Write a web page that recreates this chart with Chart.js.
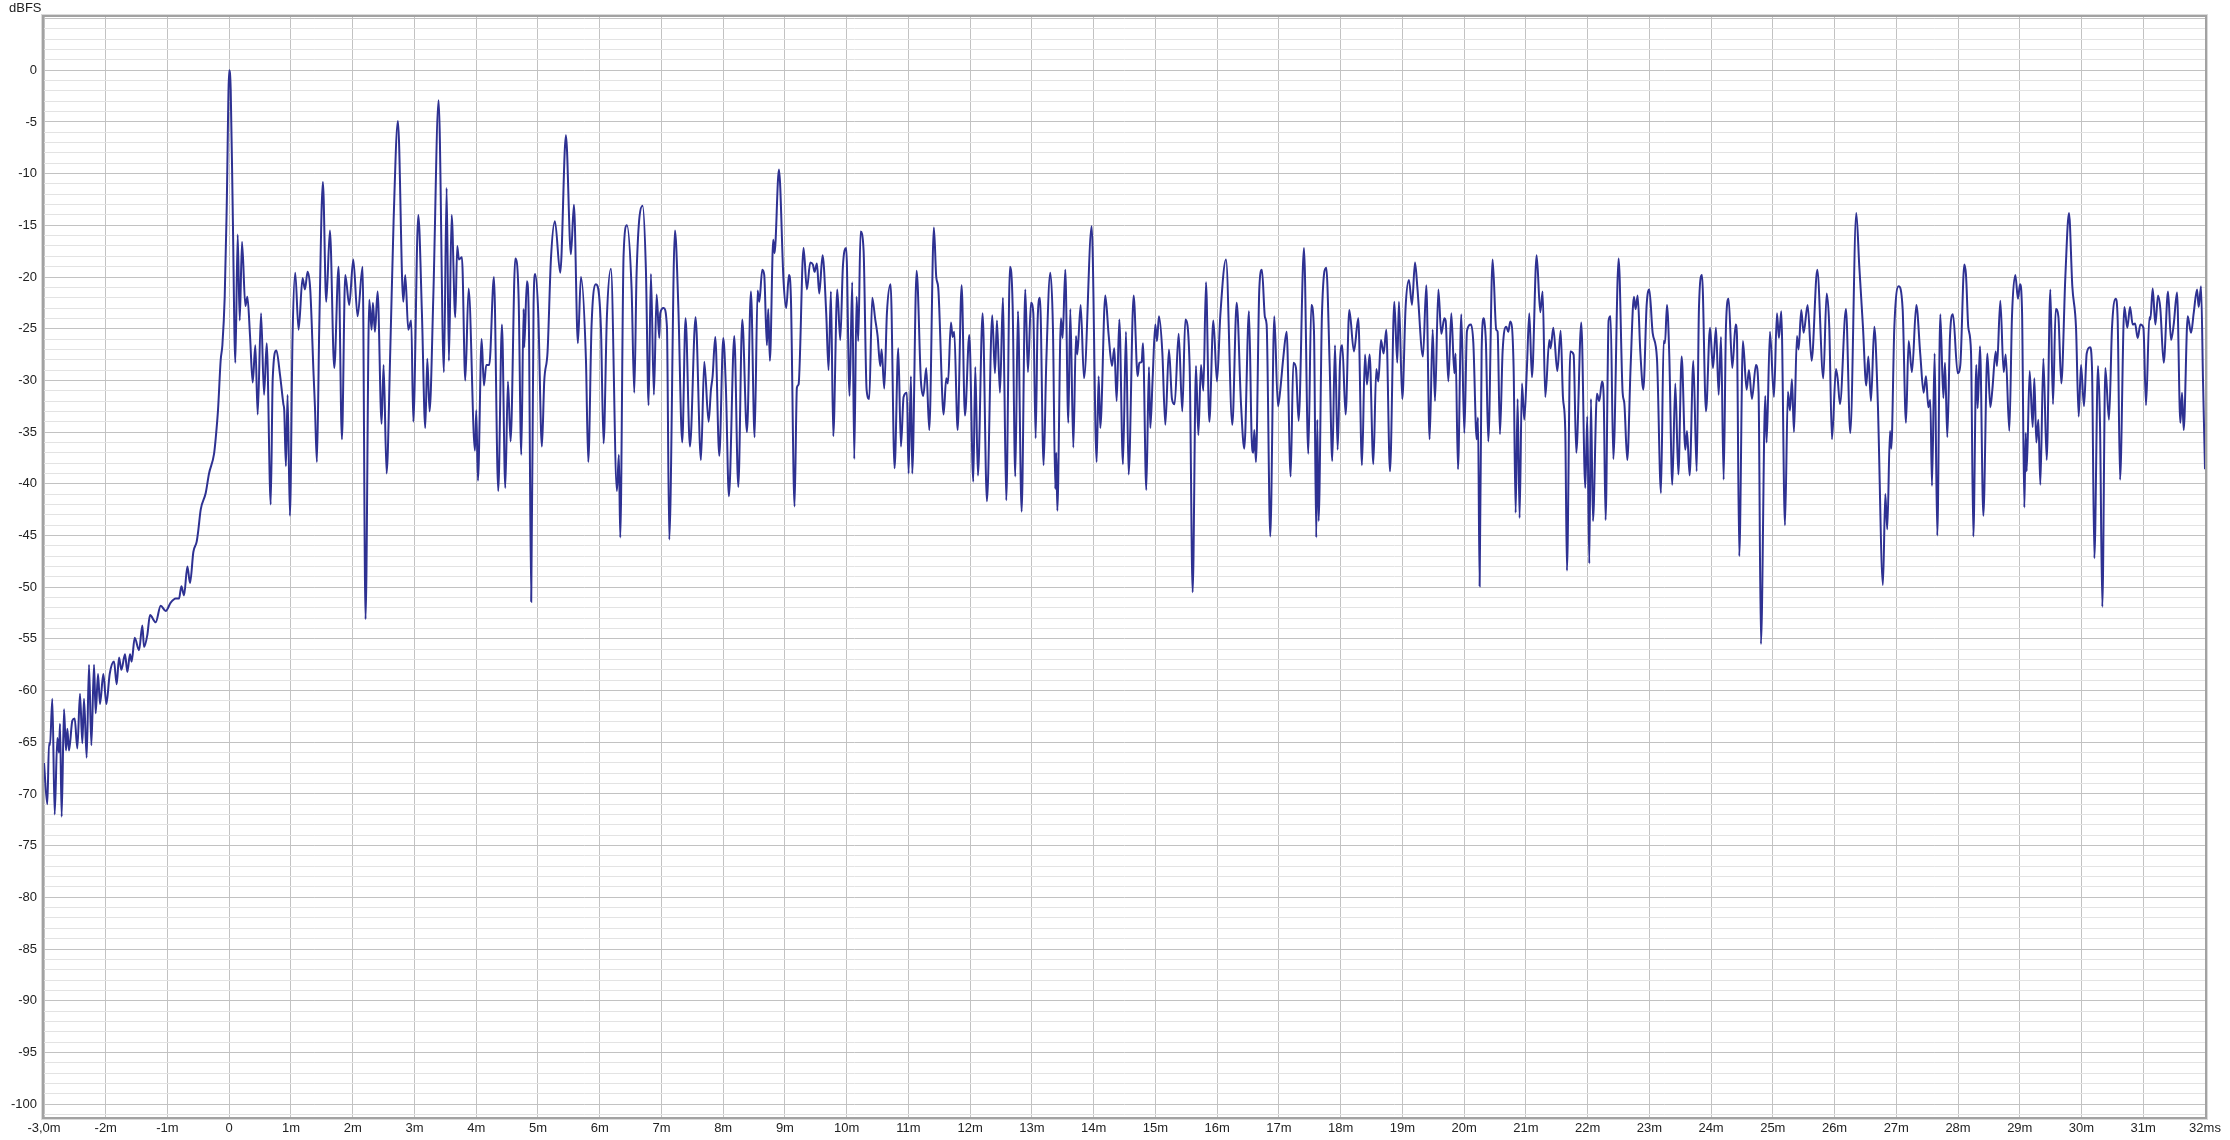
<!DOCTYPE html>
<html>
<head>
<meta charset="utf-8">
<title>Impulse response</title>
<script src="https://cdn.jsdelivr.net/npm/chart.js@4.4.1/dist/chart.umd.min.js"></script>
<style>
  html, body { margin: 0; padding: 0; background: #fff; }
  #wrap { position: relative; width: 2230px; height: 1140px; }
  #unit { position: absolute; left: 9px; top: 0px; font: 13px "Liberation Sans", Arial, sans-serif; color: #222; }
</style>
</head>
<body>
<div id="wrap">
  <canvas id="irChart" width="2230" height="1140"></canvas>
  <div id="unit">dBFS</div>
</div>
<script>
// time (ms) / level (dBFS), one pair of arrays per stretch
const t0 = [-3.000,-2.946,-2.919,-2.903,-2.865,-2.827,-2.784,-2.757,-2.741,-2.714,
  -2.676,-2.644,-2.622,-2.595,-2.541,-2.503,-2.460,-2.417,-2.379,-2.352,
  -2.309,-2.271,-2.233,-2.190,-2.163,-2.125,-2.093,-2.039,-1.990,-1.936,
  -1.866,-1.823,-1.785,-1.747,-1.688,-1.650,-1.607,-1.580,-1.531,-1.461,
  -1.407,-1.380,-1.326,-1.283,-1.191,-1.110,-1.029,-0.948,-0.867,-0.813,
  -0.775,-0.732,-0.678,-0.635,-0.581,-0.527,-0.505,-0.462,-0.381,-0.327,
  -0.246,-0.219,-0.181,-0.138,-0.111,-0.073,-0.041,0.000,0.024,0.056,
  0.099,0.137,0.170,0.207,0.261,0.294,0.337,0.380,0.423,0.461,
  0.515,0.564,0.607,0.672,0.704,0.764,0.823,0.877];
const db0 = [-67.0,-71.0,-65.1,-65.3,-60.8,-72.0,-64.6,-66.0,-63.2,-72.2,
  -61.8,-65.8,-63.7,-65.8,-62.9,-62.7,-65.6,-60.3,-65.1,-60.8,
  -66.5,-57.5,-65.3,-57.5,-62.2,-58.4,-61.3,-58.4,-61.3,-58.4,
  -57.2,-59.4,-56.8,-58.0,-56.5,-58.2,-56.5,-57.2,-54.9,-56.1,
  -53.7,-55.8,-54.6,-52.7,-53.4,-51.8,-52.3,-51.5,-51.1,-51.1,
  -49.9,-50.8,-48.0,-49.6,-46.6,-45.6,-44.7,-42.5,-40.9,-39.0,
  -37.1,-35.6,-32.8,-28.0,-26.6,-21.9,-13.3,0.0,-1.9,-13.3,
  -28.3,-15.9,-24.2,-16.6,-22.8,-21.9,-25.7,-30.2,-26.6,-33.3,
  -23.5,-31.4,-26.4,-42.0,-29.9,-27.1,-29.5,-32.3];

const t1 = [0.891,0.918,0.945,0.983,1.026,1.069,1.123,1.188,1.226,1.269,
  1.312,1.366,1.388,1.420,1.458,1.517,1.571,1.631,1.701,1.771,
  1.825,1.879,1.944,2.009,2.079,2.160,2.208,2.268,2.306,2.327,
  2.360,2.403,2.468,2.500,2.549,2.608,2.662,2.732,2.819,2.851,
  2.900,2.948,2.981,3.062,3.121,3.175,3.208,3.245,3.305,3.391,
  3.477,3.521,3.558,3.602,3.661,3.693,3.720,3.769,3.823,3.877,
  3.980,4.001,4.028,4.088,4.125,4.163,4.212,4.287,4.357,4.417,
  4.471,4.514,4.557,4.633,4.687,4.730,4.768];
const db1 = [-32.9,-38.3,-31.4,-43.1,-25.7,-19.6,-25.1,-20.1,-21.2,-19.5,
  -21.2,-29.4,-32.5,-37.9,-24.9,-10.8,-22.4,-15.5,-28.8,-19.0,
  -35.7,-19.8,-22.7,-18.3,-23.8,-19.0,-53.1,-22.2,-25.1,-22.5,
  -25.3,-21.4,-34.2,-28.5,-39.0,-27.2,-14.6,-4.9,-22.4,-19.8,
  -25.1,-24.2,-34.0,-14.0,-23.5,-34.6,-27.9,-33.0,-22.0,-2.9,
  -29.2,-11.4,-28.1,-14.0,-23.9,-17.0,-18.3,-18.1,-30.0,-21.1,
  -36.8,-32.9,-39.7,-26.0,-30.5,-28.5,-28.5,-20.0,-40.7,-24.6,
  -40.4,-30.1,-35.9,-18.2,-22.0,-37.2,-23.1];

const t2 = [4.778,4.821,4.854,4.891,4.929,4.956,5.005,5.064,5.102,5.156,
  5.210,5.275,5.361,5.453,5.534,5.583,5.647,5.696,5.777,5.815,
  5.869,5.939,6.020,6.063,6.117,6.182,6.279,6.311,6.333,6.387,
  6.441,6.517,6.560,6.598,6.695,6.749,6.792,6.830,6.878,6.922,
  6.965,6.981,7.035,7.089,7.127,7.219,7.273,7.337,7.391,7.462,
  7.553,7.640,7.694,7.764,7.802,7.829,7.872,7.937,8.002,8.045,
  8.093,8.180,8.245,8.309,8.385,8.450,8.509,8.558,8.585,8.633];
const db2 = [-26.8,-20.4,-24.9,-51.4,-22.7,-19.7,-23.5,-36.4,-30.1,-27.2,
  -18.3,-14.6,-19.6,-6.3,-17.8,-13.0,-26.4,-20.0,-27.9,-37.9,
  -24.6,-20.7,-24.9,-36.1,-23.8,-19.2,-40.7,-37.2,-45.2,-17.9,
  -15.0,-21.2,-31.2,-19.6,-13.1,-19.4,-32.4,-19.7,-31.4,-21.7,
  -25.9,-23.5,-23.0,-24.8,-45.4,-15.5,-22.7,-36.0,-24.0,-36.4,
  -23.9,-37.7,-28.2,-34.0,-30.9,-29.6,-25.8,-37.3,-25.9,-30.9,
  -41.2,-25.7,-40.3,-24.1,-35.0,-21.4,-35.5,-21.3,-22.4,-19.3];

const t3 = [8.665,8.708,8.730,8.757,8.811,8.832,8.903,8.978,9.021,9.065,
  9.097,9.156,9.194,9.221,9.302,9.356,9.410,9.453,9.480,9.518,
  9.556,9.610,9.669,9.707,9.745,9.783,9.848,9.896,9.939,9.993,
  10.047,10.090,10.123,10.161,10.188,10.225,10.274,10.323,10.366,10.414,
  10.463,10.501,10.544,10.566,10.609,10.652,10.712,10.776,10.836,10.879,
  10.922,10.976,11.003,11.041,11.062,11.133,11.203,11.241,11.289,11.338,
  11.413,11.451,11.484,11.554,11.570,11.613,11.640,11.689,11.716,11.743,
  11.786,11.797,11.862,11.916,11.986,12.051,12.083,12.126,12.202,12.272,
  12.358,12.402,12.434,12.483,12.531];
const db3 = [-19.8,-26.6,-23.1,-28.1,-16.4,-17.7,-9.6,-20.4,-23.0,-19.8,
  -22.0,-42.2,-30.7,-30.4,-17.2,-21.2,-18.6,-18.8,-19.5,-18.7,
  -21.6,-17.9,-23.5,-29.0,-21.4,-35.4,-21.2,-26.1,-19.0,-17.2,
  -31.5,-20.5,-37.6,-21.9,-26.2,-15.6,-17.4,-30.9,-31.8,-22.0,
  -24.1,-25.7,-28.6,-27.0,-30.8,-23.5,-20.7,-38.5,-26.9,-36.4,
  -31.6,-31.2,-39.0,-29.6,-39.0,-19.4,-30.1,-31.5,-28.8,-34.8,
  -15.2,-20.0,-21.1,-32.2,-33.3,-29.8,-30.3,-24.4,-25.8,-25.3,
  -33.6,-34.8,-20.8,-33.4,-25.6,-39.8,-28.7,-39.2,-23.5,-41.7,
  -23.7,-29.3,-24.2,-31.2,-22.0];

const t4 = [12.553,12.585,12.645,12.688,12.731,12.774,12.834,12.893,12.936,12.985,
  13.023,13.061,13.093,13.131,13.190,13.233,13.298,13.341,13.379,13.395,
  13.412,13.471,13.498,13.541,13.590,13.622,13.671,13.714,13.735,13.790,
  13.844,13.968,14.049,14.081,14.108,14.189,14.243,14.297,14.335,14.373,
  14.416,14.475,14.524,14.567,14.648,14.713,14.740,14.778,14.799,14.853,
  14.896,14.918,14.956,14.999,15.026,15.058,15.112,15.161,15.220,15.269,
  15.312,15.377,15.436,15.485,15.555,15.604,15.658,15.696,15.739,15.777,
  15.820,15.874,15.939,15.998,16.052,16.144,16.246,16.317,16.387];
const db4 = [-29.8,-41.6,-19.0,-22.7,-39.3,-23.3,-42.7,-21.2,-29.2,-22.5,
  -23.5,-35.6,-24.2,-22.0,-38.2,-28.3,-19.6,-24.9,-40.5,-37.0,
  -42.6,-24.0,-25.9,-19.3,-34.1,-23.1,-36.5,-25.7,-27.5,-22.7,
  -29.8,-15.1,-37.9,-29.6,-34.6,-21.8,-25.6,-28.6,-26.9,-32.0,
  -24.1,-38.1,-25.3,-39.1,-21.8,-29.6,-28.3,-28.2,-26.4,-40.6,
  -28.7,-34.6,-29.8,-24.6,-26.2,-23.8,-27.2,-34.3,-27.0,-31.8,
  -32.3,-25.5,-33.0,-24.1,-28.6,-50.5,-28.6,-35.3,-28.5,-31.0,
  -20.5,-34.0,-24.2,-30.1,-23.7,-18.3,-34.3,-22.5,-32.3];

const t5 = [16.440,16.516,16.559,16.586,16.602,16.629,16.683,16.726,16.775,16.802,
  16.861,16.926,16.985,17.018,17.072,17.126,17.191,17.234,17.277,17.320,
  17.407,17.477,17.525,17.569,17.606,17.622,17.644,17.698,17.768,17.822,
  17.865,17.909,17.952,17.990,18.027,18.081,18.141,18.216,18.287,18.346,
  18.395,18.427,18.470,18.530,18.578,18.611,18.654,18.697,18.740,18.800,
  18.870,18.918,18.945,18.999,19.053,19.107,19.156,19.205,19.242,19.334,
  19.388,19.442,19.491,19.529,19.583,19.631,19.680,19.701,19.745,19.793,
  19.842,19.863,19.901,19.955,20.004,20.047,20.112,20.150,20.204,20.225,
  20.252,20.284,20.317];
const db5 = [-36.6,-23.3,-35.5,-37.0,-34.8,-37.9,-21.2,-19.3,-23.9,-24.6,
  -45.1,-23.8,-32.5,-31.2,-27.8,-25.3,-39.3,-28.3,-28.8,-33.9,
  -17.2,-37.1,-22.7,-25.3,-45.2,-33.8,-43.6,-23.6,-19.1,-28.3,
  -37.8,-26.6,-36.7,-28.3,-26.6,-33.3,-23.2,-27.2,-24.0,-38.2,
  -27.5,-30.4,-27.5,-38.1,-28.9,-30.1,-26.1,-27.4,-25.1,-38.8,
  -22.4,-28.3,-22.4,-31.8,-22.9,-20.3,-22.7,-18.6,-20.9,-27.7,
  -20.8,-35.7,-25.1,-32.0,-21.2,-25.5,-24.0,-24.2,-30.1,-23.5,
  -29.3,-27.4,-38.6,-23.6,-35.1,-25.2,-24.6,-26.4,-35.7,-33.6,
  -49.9,-27.2,-24.0];

const t6 = [20.327,20.354,20.392,20.462,20.521,20.543,20.581,20.624,20.683,20.716,
  20.748,20.802,20.835,20.867,20.899,20.937,20.975,21.018,21.056,21.099,
  21.175,21.234,21.272,21.315,21.380,21.402,21.445,21.510,21.564,21.601,
  21.639,21.666,21.720,21.774,21.817,21.898,21.963,21.995,22.028,22.055,
  22.087,22.152,22.190,22.233,22.260,22.292,22.341,22.373,22.417,22.503,
  22.568,22.595,22.643,22.697,22.751,22.778,22.811,22.854,22.903,22.957,
  23.000,23.054,23.124,23.189,23.232,23.254,23.286,23.324,23.372,23.421,
  23.470,23.524,23.583,23.610,23.653,23.713,23.767,23.804,23.853,23.918,
  23.983,24.031,24.080,24.123,24.161,24.204];
const db6 = [-24.2,-26.4,-35.9,-18.3,-25.1,-25.3,-35.2,-27.2,-24.8,-25.3,
  -24.3,-28.7,-42.8,-31.8,-43.3,-30.3,-33.8,-28.7,-23.5,-29.7,
  -17.9,-23.4,-21.4,-31.6,-26.1,-26.9,-24.9,-29.1,-25.2,-31.6,
  -34.9,-48.4,-27.2,-27.5,-37.0,-24.4,-40.4,-33.5,-47.7,-31.8,
  -43.6,-31.3,-32.0,-30.1,-31.4,-43.5,-24.2,-23.8,-37.6,-18.2,
  -31.2,-32.2,-37.7,-28.7,-21.9,-23.1,-21.8,-27.2,-30.9,-22.7,
  -21.2,-25.4,-27.9,-40.9,-26.2,-26.4,-22.7,-27.7,-40.1,-30.3,
  -39.1,-27.7,-36.7,-34.9,-39.2,-28.1,-38.8,-23.0,-19.8,-33.0,
  -24.9,-28.8,-24.9,-31.4,-25.8,-39.6];

const t7 = [24.241,24.284,24.344,24.398,24.419,24.457,24.516,24.576,24.614,24.662,
  24.727,24.770,24.808,24.878,24.900,24.954,25.019,25.067,25.100,25.137,
  25.197,25.245,25.278,25.310,25.343,25.391,25.418,25.461,25.499,25.564,
  25.629,25.720,25.818,25.872,25.915,25.958,26.023,26.050,26.088,26.185,
  26.255,26.352,26.401,26.460,26.514,26.547,26.590,26.644,26.698,26.784,
  26.822,26.854,26.898,26.919,26.968,27.038,27.103,27.157,27.200,27.254,
  27.324,27.389,27.443,27.481,27.519,27.551,27.578,27.621,27.664,27.713,
  27.762,27.789,27.826,27.870,27.918,27.994,28.037];
const db7 = [-24.9,-22.1,-28.8,-24.6,-25.6,-47.0,-26.2,-30.9,-29.0,-31.8,
  -28.5,-31.2,-55.5,-31.5,-36.0,-25.3,-31.6,-23.5,-25.9,-23.3,
  -44.0,-31.1,-32.9,-29.9,-35.0,-25.7,-27.0,-23.2,-25.4,-22.7,
  -28.1,-19.3,-29.8,-21.6,-24.9,-35.7,-28.9,-29.8,-32.3,-23.1,
  -35.1,-13.8,-19.0,-24.8,-30.5,-27.7,-32.0,-24.8,-31.6,-49.8,
  -41.0,-44.4,-34.9,-36.6,-24.9,-20.9,-23.1,-34.1,-26.2,-29.2,
  -22.7,-27.5,-31.2,-29.6,-32.6,-31.9,-40.2,-27.4,-45.0,-23.6,
  -31.7,-28.3,-35.5,-25.7,-23.6,-29.3,-28.5];

const t8 = [28.102,28.129,28.167,28.210,28.248,28.296,28.318,28.356,28.410,28.475,
  28.523,28.556,28.610,28.631,28.685,28.739,28.772,28.831,28.874,28.928,
  28.971,29.004,29.036,29.074,29.096,29.112,29.160,29.209,29.236,29.268,
  29.301,29.333,29.382,29.436,29.495,29.538,29.582,29.625,29.673,29.738,
  29.797,29.851,29.911,29.954,29.992,30.040,30.084,30.138,30.170,30.208,
  30.267,30.300,30.337,30.386,30.445,30.494,30.553,30.586,30.624,30.694,
  30.742,30.786,30.829,30.867,30.910,30.953,31.002,31.045,31.099,31.115,
  31.153,31.196,31.239,31.277,31.331,31.401,31.450,31.493,31.547,31.601,
  31.628,31.655,31.720,31.774,31.817,31.871,31.898,31.936,31.968,32.000];
const db8 = [-18.8,-19.8,-24.9,-27.2,-45.1,-28.5,-32.7,-26.7,-43.1,-27.4,
  -32.6,-30.9,-27.2,-28.6,-22.3,-29.2,-27.5,-34.9,-23.8,-19.8,
  -22.1,-20.7,-23.1,-42.3,-35.1,-38.8,-29.1,-34.5,-29.8,-36.0,
  -33.8,-40.1,-27.9,-37.7,-21.2,-32.3,-23.1,-23.8,-30.3,-20.0,
  -13.8,-20.9,-24.9,-33.5,-28.5,-32.5,-27.4,-26.8,-28.8,-47.2,
  -28.6,-34.4,-51.9,-28.8,-33.8,-24.9,-22.1,-24.2,-39.6,-22.9,
  -24.9,-22.9,-24.6,-24.5,-25.9,-24.6,-24.9,-32.4,-23.9,-24.1,
  -21.1,-24.6,-21.8,-23.1,-28.3,-21.4,-26.1,-24.6,-21.5,-34.1,
  -31.2,-34.8,-23.8,-25.4,-23.5,-21.2,-22.9,-20.9,-30.1,-38.6];

// axis labels
const msLabels = ['-3,0m','-2m','-1m','0','1m','2m','3m','4m','5m','6m','7m','8m','9m',
  '10m','11m','12m','13m','14m','15m','16m','17m','18m','19m','20m','21m','22m',
  '23m','24m','25m','26m','27m','28m','29m','30m','31m','32ms'];
const dbLabels = [0,-5,-10,-15,-20,-25,-30,-35,-40,-45,-50,-55,-60,-65,-70,-75,-80,-85,-90,-95,-100];

const times = [].concat(t0, t1, t2, t3, t4, t5, t6, t7, t8);
const levels = [].concat(db0, db1, db2, db3, db4, db5, db6, db7, db8);
const points = times.map((t, i) => ({ x: t, y: levels[i] }));

const majorGrid = '#c2c2c2';
const minorGrid = '#e3e3e3';
const labelFont = { family: '"Liberation Sans", Arial, sans-serif', size: 13 };

const framePlugin = {
  id: 'frame',
  afterDraw(chart) {
    const a = chart.chartArea;
    const c = chart.ctx;
    c.save();
    c.strokeStyle = '#dadada';
    c.lineWidth = 1;
    c.strokeRect(a.left - 2.5, a.top - 2.5, a.right - a.left + 5, a.bottom - a.top + 5);
    c.strokeStyle = '#a2a2a2';
    c.lineWidth = 2;
    c.strokeRect(a.left - 1, a.top - 1, a.right - a.left + 2, a.bottom - a.top + 2);
    c.restore();
  }
};

const ctx = document.getElementById('irChart').getContext('2d');
new Chart(ctx, {
  type: 'line',
  data: {
    datasets: [{
      data: points,
      borderColor: '#2e3192',
      borderWidth: 2,
      pointRadius: 0,
      cubicInterpolationMode: 'monotone',
      fill: false
    }]
  },
  options: {
    responsive: false,
    animation: false,
    layout: { padding: { left: 0, top: 17, right: 25, bottom: 0 } },
    plugins: { legend: { display: false }, tooltip: { enabled: false } },
    scales: {
      x: {
        type: 'linear',
        min: -3,
        max: 32,
        afterBuildTicks: s => { s.ticks = msLabels.map((_, i) => ({ value: i - 3 })); },
        afterFit: s => { s.height = 23; },
        ticks: {
          autoSkip: false,
          maxRotation: 0,
          padding: 4,
          color: '#222',
          font: labelFont,
          callback: (v, i) => msLabels[i]
        },
        grid: { color: majorGrid, drawTicks: false },
        border: { display: false }
      },
      y: {
        type: 'linear',
        min: -101.25,
        max: 5.15,
        afterBuildTicks: s => {
          const list = [];
          for (let v = -101; v <= 5; v++) list.push({ value: v });
          s.ticks = list;
        },
        afterFit: s => { s.width = 44; },
        ticks: {
          autoSkip: false,
          padding: 7,
          color: '#222',
          font: labelFont,
          callback: v => dbLabels.includes(v) ? String(v) : ''
        },
        grid: {
          color: c => (c.tick && Math.abs(c.tick.value) % 5 === 0) ? majorGrid : minorGrid,
          drawTicks: false
        },
        border: { display: false }
      }
    }
  },
  plugins: [framePlugin]
});
</script>
</body>
</html>
